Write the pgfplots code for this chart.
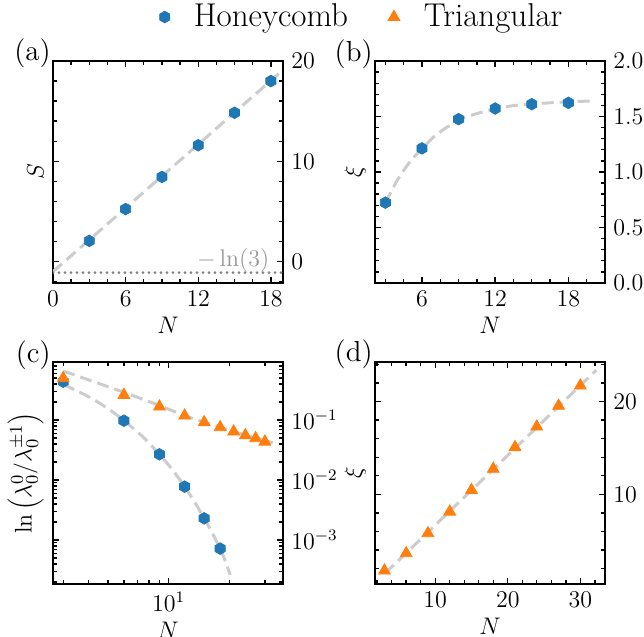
\documentclass[12pt,border=0pt]{standalone}
\usepackage{pgfplots}
\pgfplotsset{compat=1.18}
\usepgfplotslibrary{groupplots}

\definecolor{mplblue}{HTML}{1F77B4}
\definecolor{mplorange}{HTML}{FF7F0E}
\definecolor{fitgray}{HTML}{CCCCCC}

% matplotlib-like hexagon marker (pointy top)
\pgfdeclareplotmark{hexagon}{%
  \pgfpathmoveto{\pgfpointpolar{90}{\pgfplotmarksize}}%
  \pgfpathlineto{\pgfpointpolar{150}{\pgfplotmarksize}}%
  \pgfpathlineto{\pgfpointpolar{210}{\pgfplotmarksize}}%
  \pgfpathlineto{\pgfpointpolar{270}{\pgfplotmarksize}}%
  \pgfpathlineto{\pgfpointpolar{330}{\pgfplotmarksize}}%
  \pgfpathlineto{\pgfpointpolar{30}{\pgfplotmarksize}}%
  \pgfpathclose
  \pgfusepathqfillstroke}

\newcommand{\panellabel}[1]{\node[anchor=base east, inner sep=0pt, xshift=-1pt,
  font=\fontsize{14.5}{17}\selectfont] at (rel axis cs:0,1) {#1};}

\pgfplotsset{
  panel/.style={
    scale only axis, width=115pt, height=111pt,
    clip mode=individual,
    tick align=inside, xtick pos=both, ytick pos=both, yticklabel pos=right,
    major tick length=3.2pt, minor tick length=1.8pt,
    every tick/.style={black, line width=0.7pt},
    axis line style={line width=0.8pt},
    xlabel={$N$},
    xlabel style={yshift=3pt, font=\fontsize{13}{15}\selectfont},
    ylabel style={at={(axis description cs:-0.03,0.5)}, anchor=south, rotate=0,
      inner sep=1pt, font=\fontsize{13}{15}\selectfont},
  },
  hon/.style={only marks, mark=hexagon, mark size=2.9pt,
    mark options={fill=mplblue, draw=mplblue}},
  tri/.style={only marks, mark=triangle*, mark size=3.4pt,
    mark options={fill=mplorange, draw=mplorange}},
  fit/.style={no marks, fitgray, line width=1.5pt, dash pattern=on 6pt off 3pt},
}

\begin{document}
\begin{tikzpicture}
\begin{groupplot}[group style={group size=2 by 2, horizontal sep=46pt, vertical sep=39.5pt}]

% (a)
\nextgroupplot[panel, xmin=0, xmax=19, ymin=-2.13, ymax=20,
  xtick={0,6,12,18}, minor xtick={1.5,3,4.5,7.5,9,10.5,13.5,15,16.5},
  ytick={0,10,20}, minor ytick={-2,2,4,6,8,12,14,16,18},
  ylabel={$S$},
  legend columns=2,
  legend style={draw=none, fill=none, font=\fontsize{16.5}{19}\selectfont,
    at={(1.348,1.198)}, anchor=center,
    /tikz/every odd column/.append style={column sep=10pt},
    /tikz/every even column/.append style={column sep=18pt}}]
\addplot[fit, forget plot] coordinates {(0,-1.0) (19,19.1)};
\addplot[forget plot, gray, line width=1.5pt, line cap=round, dash pattern=on 0pt off 3pt]
  coordinates {(0,-1.0986) (19,-1.0986)};
\addplot[hon] coordinates {(3,2.07) (6,5.24) (9,8.44) (12,11.6) (15,14.84) (18,18.0)};
\addlegendentry{Honeycomb}
\addlegendimage{tri}
\addlegendentry{Triangular}
\node[anchor=base east, text=gray!80, inner sep=0pt] at (axis cs:17.9,-0.45) {$-\ln(3)$};
\panellabel{(a)}
\coordinate (TL) at (rel axis cs:0,1);

% (b)
\nextgroupplot[panel, xmin=2.15, xmax=21, ymin=0, ymax=2,
  xtick={6,12,18}, minor xtick={3,4.5,7.5,9,10.5,13.5,15,16.5,19.5},
  ytick={0,0.5,1,1.5,2}, minor y tick num=4,
  yticklabel style={/pgf/number format/.cd, fixed, fixed zerofill, precision=1},
  ylabel={$\xi$}]
\addplot[fit, smooth] coordinates {(3,0.72) (4,0.93) (5,1.09) (6,1.21) (7,1.32) (8,1.40)
  (9,1.47) (10,1.51) (12,1.57) (14,1.605) (16,1.62) (18,1.632) (20.2,1.641)};
\addplot[hon] coordinates {(3,0.724) (6,1.213) (9,1.476) (12,1.572) (15,1.611) (18,1.623)};
\panellabel{(b)}

% (c)
\nextgroupplot[panel, xmode=log, ymode=log, xmin=2.67, xmax=36.9, ymin=1.85e-4, ymax=0.926,
  xtick={10}, minor xtick={3,4,5,6,7,8,9,20,30},
  ytick={1e-3,1e-2,1e-1},
  minor ytick={2e-4,3e-4,4e-4,5e-4,6e-4,7e-4,8e-4,9e-4,
    2e-3,3e-3,4e-3,5e-3,6e-3,7e-3,8e-3,9e-3,
    2e-2,3e-2,4e-2,5e-2,6e-2,7e-2,8e-2,9e-2,
    2e-1,3e-1,4e-1,5e-1,6e-1,7e-1,8e-1,9e-1},
  ylabel={$\ln\left(\lambda_0^0/\lambda_0^{\pm1}\right)$}]
\addplot[fit, smooth] coordinates {(3,0.393) (4,0.245) (5,0.155) (6,0.0977) (7.5,0.0513)
  (9,0.0268) (10.5,0.01445) (12,0.00776) (13.5,0.00422) (15,0.0023) (16.5,0.00129)
  (18,0.000716) (19,0.000468) (20.2,0.000261)};
\addplot[fit] coordinates {(3,0.656) (6,0.29) (9,0.175) (12,0.118) (15,0.092) (21,0.064)
  (27,0.050) (32.8,0.042)};
\addplot[hon] coordinates {(3,0.435) (6,0.0974) (9,0.0268) (12,0.00776) (15,0.0023) (18,0.00072)};
\addplot[tri] coordinates {(3,0.495) (6,0.261) (9,0.167) (12,0.118) (15,0.0914) (18,0.0755)
  (21,0.064) (24,0.0555) (27,0.0495) (30,0.0435)};
\panellabel{(c)}

% (d)
\nextgroupplot[panel, xmin=1.7, xmax=33.4, ymin=0.32, ymax=24.28,
  xtick={10,20,30}, minor xtick={2,4,6,8,12,14,16,18,22,24,26,28,32},
  ytick={10,20}, minor ytick={2,4,6,8,12,14,16,18,22,24},
  ylabel={$\xi$}]
\addplot[fit] coordinates {(3.1,1.48) (32.2,23.4)};
\addplot[tri] coordinates {(3,1.76) (6,3.63) (9,5.79) (12,8.12) (15,10.46) (18,12.74)
  (21,15.08) (24,17.3) (27,19.54) (30,21.73)};
\panellabel{(d)}

\end{groupplot}
\pgfresetboundingbox
\path ([shift={(-26.5pt,30.5pt)}]TL) rectangle ([shift={(295.5pt,-288pt)}]TL);
\end{tikzpicture}
\end{document}
